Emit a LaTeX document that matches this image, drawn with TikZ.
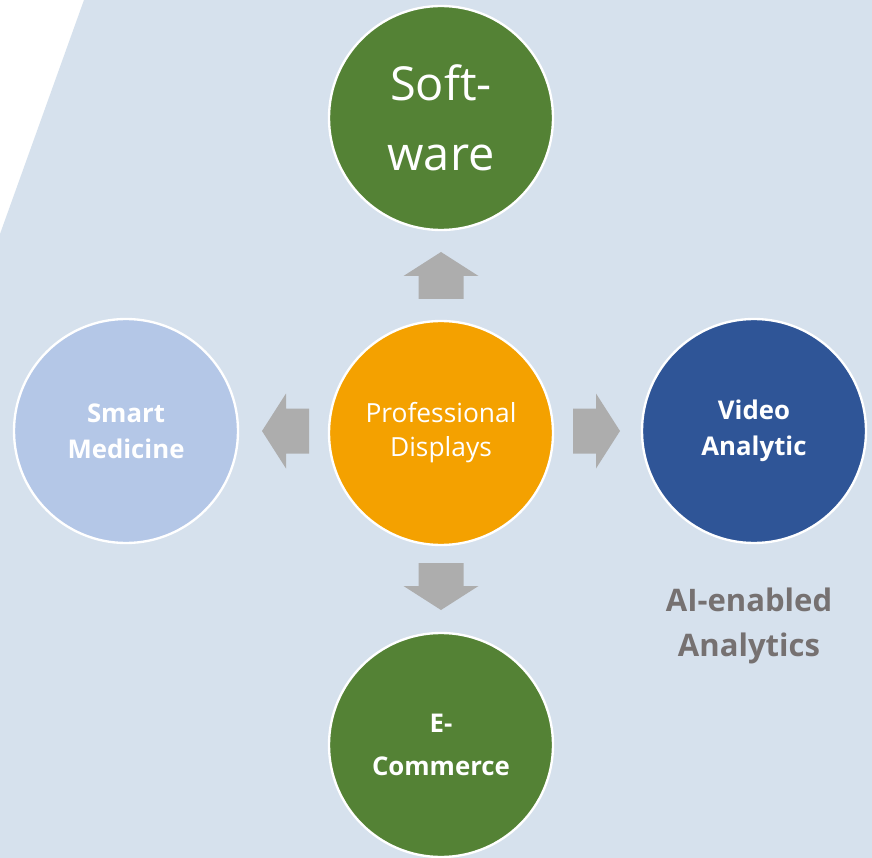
\documentclass[tikz,border=0pt]{standalone}
\usepackage{fontspec}
\setmainfont{Open Sans}
\usepackage{tikz}
\usetikzlibrary{positioning}
\definecolor{bgblue}{HTML}{D6E1ED}
\definecolor{leafgreen}{HTML}{548235}
\definecolor{amber}{HTML}{F4A100}
\definecolor{navyblue}{HTML}{2F5597}
\definecolor{paleblue}{HTML}{B4C7E7}
\definecolor{arrowgray}{HTML}{ADADAD}
\definecolor{notegray}{HTML}{767171}
\tikzset{
  bubble/.style={circle, draw=white, line width=2pt, minimum size=67.2mm, inner sep=0pt,
    text=white, align=center},
  boldlabel/.style={font=\fontsize{22}{31}\selectfont\bfseries},
}
\newcommand{\blockarrow}[3]{%
  \begin{scope}[shift={(#1,#2)}, rotate=#3]
    \fill[arrowgray] (0,-22.5) -- (23,-22.5) -- (23,-37.5) -- (47,0)
      -- (23,37.5) -- (23,22.5) -- (0,22.5) -- cycle;
  \end{scope}}

\begin{document}
\begin{tikzpicture}[x=0.3mm, y=-0.3mm]
      \useasboundingbox (0,0) rectangle (872,858);
      \fill[white] (0,0) rectangle (872,858);
      \fill[bgblue] (84,0) -- (872,0) -- (872,858) -- (0,858) -- (0,234) -- cycle;

      \node[bubble, fill=leafgreen, font=\fontsize{40}{60}\selectfont] (SW) at (441,118) {Soft-\\ware};
      \node[bubble, fill=amber, font=\fontsize{22.5}{29}\selectfont] (PD) at (441,433) {Professional\\Displays};
      \node[bubble, fill=paleblue, boldlabel] (SM) at (126,431) {Smart\\Medicine};
      \node[bubble, fill=navyblue, boldlabel] (VA) at (754,431) {Video\\Analytic};
      \node[bubble, fill=leafgreen, font=\fontsize{22}{36}\selectfont\bfseries] (EC) at (441,745) {E-\\Commerce};

      \node[text=notegray, align=center, font=\fontsize{26.5}{39}\selectfont\bfseries] (AIA) at (749,626) {AI-enabled\\Analytics};

      \blockarrow{441}{299}{90}
      \blockarrow{309}{431}{180}
      \blockarrow{573}{431}{0}
      \blockarrow{441}{563}{270}
    \end{tikzpicture}
\end{document}
